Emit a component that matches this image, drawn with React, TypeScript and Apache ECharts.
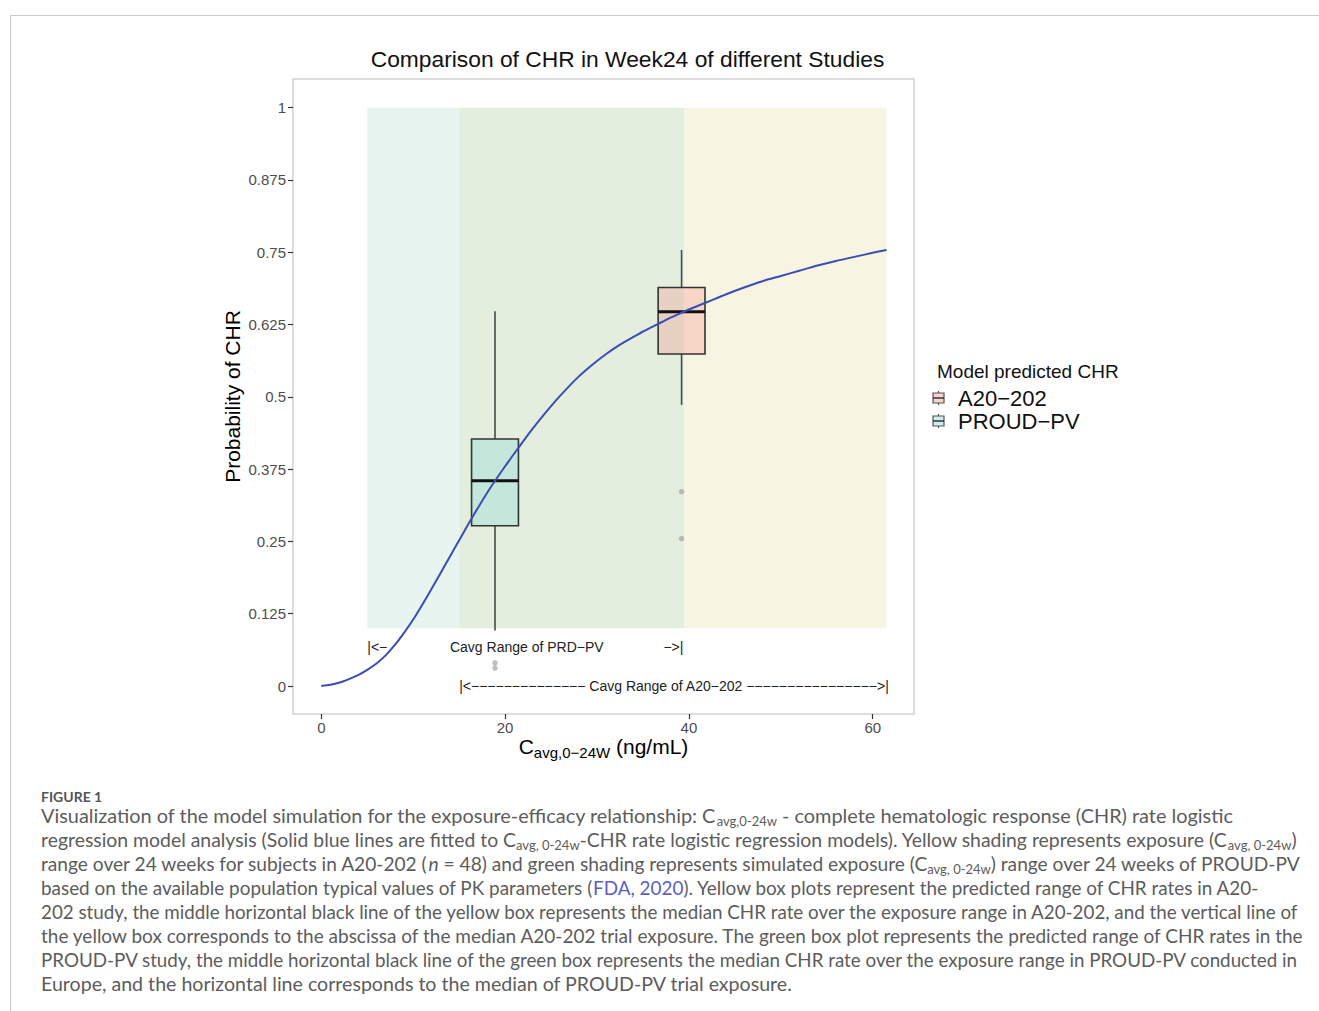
import React, { useEffect, useRef } from 'react';
import * as echarts from 'echarts';

// ---------- data ----------
const curveX = [0, 1, 2, 3, 4, 5, 6, 7, 8, 9, 10, 11, 12, 13, 14, 15, 16, 17, 18, 19, 20, 21, 22, 23, 24, 25, 26, 27, 28, 29, 30, 31, 32, 33, 34, 35, 36, 37, 38, 39, 40, 42, 44, 46, 48, 50, 52, 54, 56, 58, 60, 61.5];
const curveY = [0.0, 0.002, 0.006, 0.012, 0.019, 0.028, 0.039, 0.053, 0.071, 0.092, 0.115, 0.141, 0.168, 0.196, 0.224, 0.252, 0.28, 0.307, 0.333, 0.357, 0.38, 0.402, 0.424, 0.445, 0.465, 0.484, 0.502, 0.519, 0.535, 0.549, 0.562, 0.574, 0.585, 0.595, 0.604, 0.613, 0.621, 0.629, 0.637, 0.644, 0.651, 0.664, 0.677, 0.689, 0.7, 0.709, 0.718, 0.727, 0.735, 0.742, 0.749, 0.754];

const proudRange = [5, 39.5];
const a20Range = [15, 61.5];
const shadeY = [0.1, 1];

const boxNames = ['A20−202', 'PROUD−PV'];
const boxX = [39.2, 18.9];
// [lower whisker, q1, median, q3, upper whisker]
const boxStats = [
  [0.486, 0.574, 0.647, 0.689, 0.754],
  [0.096, 0.277, 0.355, 0.427, 0.648],
];
const boxWidth = 5.1;
const a20Outliers = [0.336, 0.255];
const proudOutliers = [0.04, 0.031];

const xTicks = [0, 20, 40, 60];
const yTicks = [0, 0.125, 0.25, 0.375, 0.5, 0.625, 0.75, 0.875, 1];

const annoX = [5, 14, 39.4, 15];
const annoY = [0.067, 0.067, 0.067, 0.0];
const annoAlign = ['left', 'left', 'right', 'left'];
const annoText = [
  '|<−',
  'Cavg Range of PRD−PV',
  '−>|',
  '|<−−−−−−−−−−−−−− Cavg Range of A20−202 −−−−−−−−−−−−−−−−>|',
];

const captionLines = [
  'Visualization of the model simulation for the exposure-efficacy relationship: C{sub|avg,0-24w} - complete hematologic response (CHR) rate logistic',
  'regression model analysis (Solid blue lines are fitted to C{sub|avg, 0-24w}-CHR rate logistic regression models). Yellow shading represents exposure (C{sub|avg, 0-24w})',
  'range over 24 weeks for subjects in A20-202 ({i|n} = 48) and green shading represents simulated exposure (C{sub|avg, 0-24w}) range over 24 weeks of PROUD-PV',
  'based on the available population typical values of PK parameters ({link|FDA, 2020}). Yellow box plots represent the predicted range of CHR rates in A20-',
  '202 study, the middle horizontal black line of the yellow box represents the median CHR rate over the exposure range in A20-202, and the vertical line of',
  'the yellow box corresponds to the abscissa of the median A20-202 trial exposure. The green box plot represents the predicted range of CHR rates in the',
  'PROUD-PV study, the middle horizontal black line of the green box represents the median CHR rate over the exposure range in PROUD-PV conducted in',
  'Europe, and the horizontal line corresponds to the median of PROUD-PV trial exposure.',
];
const captionSizes = [19.9, 19.4, 19.15, 18.9, 18.8, 19.0, 18.8, 19.6];

// ---------- styles ----------
const FONT = '"Liberation Sans", Arial, sans-serif';
const CAP_FONT = 'Lato, "Open Sans", sans-serif';
const shadeColors = ['#e8f4f0', '#e3eedf', '#f7f5e2'];
const boxFills = ['rgba(248,118,109,0.24)', 'rgba(0,191,196,0.14)'];
const legendFills = ['#f6d3cf', '#cdeef0'];
const capColor = '#5c5c5c';

function buildOption() {
  const shadeData = [
    [proudRange[0], a20Range[0], shadeY[0], shadeY[1], 0],
    [a20Range[0], proudRange[1], shadeY[0], shadeY[1], 1],
    [proudRange[1], a20Range[1], shadeY[0], shadeY[1], 2],
  ];
  const boxData = boxX.map((x, i) => [x, ...boxStats[i], i]);
  const outlierData = [
    ...a20Outliers.map((v) => [boxX[0], v]),
    ...proudOutliers.map((v) => [boxX[1], v]),
  ];
  const annoData = annoX.map((x, i) => [x, annoY[i], i]);

  const graphics: any[] = [
    { type: 'line', shape: { x1: 10, y1: 15.5, x2: 1319, y2: 15.5 }, style: { stroke: '#c9c9c9', lineWidth: 1 } },
    { type: 'line', shape: { x1: 10.5, y1: 15, x2: 10.5, y2: 1011 }, style: { stroke: '#c9c9c9', lineWidth: 1 } },
    {
      type: 'text', x: 627.5, y: 59,
      style: { text: 'Comparison of CHR in Week24 of different Studies', font: `22.8px ${FONT}`, fill: '#111', align: 'center', verticalAlign: 'middle' },
    },
    {
      type: 'text', x: 937, y: 371,
      style: { text: 'Model predicted CHR', font: `19px ${FONT}`, fill: '#111', align: 'left', verticalAlign: 'middle' },
    },
  ];
  const legendY = [398, 421];
  boxNames.forEach((name, i) => {
    const cy = legendY[i];
    const cx = 938.5;
    graphics.push(
      { type: 'line', shape: { x1: cx, y1: cy - 7, x2: cx, y2: cy + 7 }, style: { stroke: '#555', lineWidth: 1.2 } },
      { type: 'rect', shape: { x: cx - 5.5, y: cy - 5, width: 11, height: 10 }, style: { fill: legendFills[i], stroke: '#555', lineWidth: 1.2 } },
      { type: 'line', shape: { x1: cx - 5.5, y1: cy, x2: cx + 5.5, y2: cy }, style: { stroke: '#333', lineWidth: 1.5 } },
      {
        type: 'text', x: 958, y: cy,
        style: { text: name, font: `22px ${FONT}`, fill: '#111', align: 'left', verticalAlign: 'middle' },
      }
    );
  });
  graphics.push({
    type: 'text', x: 41, y: 796,
    style: { text: 'FIGURE 1', font: `bold 14px ${CAP_FONT}`, fill: '#555', align: 'left', verticalAlign: 'middle' },
  });
  captionLines.forEach((line, i) => {
    const fs = captionSizes[i];
    graphics.push({
      type: 'text', x: 41, y: 815 + i * 24,
      style: {
        text: line,
        fontFamily: CAP_FONT,
        fontSize: fs,
        lineHeight: 24,
        fill: capColor,
        align: 'left',
        verticalAlign: 'middle',
        rich: {
          sub: { fontFamily: CAP_FONT, fontSize: 13, lineHeight: 12, verticalAlign: 'bottom', fill: capColor },
          i: { fontFamily: CAP_FONT, fontSize: fs, lineHeight: 24, fontStyle: 'italic', fill: capColor },
          link: { fontFamily: CAP_FONT, fontSize: fs, lineHeight: 24, fill: '#5a5fc0' },
        },
      },
    });
  });

  return {
    animation: false,
    backgroundColor: '#fff',
    grid: {
      left: 293, top: 79, width: 621, height: 635,
      show: true, borderColor: '#d2d2d2', borderWidth: 1.5, backgroundColor: '#fff',
      containLabel: false,
    },
    xAxis: {
      type: 'value', min: -3.08, max: 64.49,
      splitLine: { show: false },
      axisLine: { show: false, onZero: false },
      axisTick: { show: true, length: 5, lineStyle: { color: '#333', width: 1.2 }, customValues: xTicks },
      axisLabel: { customValues: xTicks, color: '#4d4d4d', fontSize: 15, fontFamily: FONT, margin: 6 },
      name: 'C{sub|avg,0−24W} (ng/mL)',
      nameLocation: 'middle',
      nameGap: 18,
      nameMoveOverlap: false,
      nameTextStyle: {
        fontSize: 21, fontFamily: FONT, color: '#000', lineHeight: 28,
        rich: { sub: { fontSize: 15, fontFamily: FONT, color: '#000', lineHeight: 16, verticalAlign: 'bottom' } },
      },
    },
    yAxis: {
      type: 'value', min: -0.0484, max: 1.0496,
      splitLine: { show: false },
      axisLine: { show: false, onZero: false },
      axisTick: { show: true, length: 5, lineStyle: { color: '#333', width: 1.2 }, customValues: yTicks },
      axisLabel: { customValues: yTicks, color: '#4d4d4d', fontSize: 15, fontFamily: FONT, margin: 7 },
      name: 'Probability of CHR',
      nameLocation: 'middle',
      nameRotate: 90,
      nameGap: 50,
      nameTextStyle: { fontSize: 21, fontFamily: FONT, color: '#000' },
    },
    graphic: graphics,
    series: [
      {
        type: 'custom',
        name: 'shade',
        silent: true,
        z: 1,
        data: shadeData,
        renderItem: (params: any, api: any) => {
          const p0 = api.coord([api.value(0), api.value(3)]);
          const p1 = api.coord([api.value(1), api.value(2)]);
          return {
            type: 'rect',
            shape: { x: p0[0], y: p0[1], width: p1[0] - p0[0], height: p1[1] - p0[1] },
            style: { fill: shadeColors[api.value(4)] },
          };
        },
      },
      {
        type: 'custom',
        name: 'boxes',
        z: 3,
        data: boxData,
        renderItem: (params: any, api: any) => {
          const x = api.value(0);
          const lo = api.value(1), q1 = api.value(2), med = api.value(3), q3 = api.value(4), hi = api.value(5);
          const idx = api.value(6);
          const tl = api.coord([x - boxWidth / 2, q3]);
          const br = api.coord([x + boxWidth / 2, q1]);
          const pHi = api.coord([x, hi]);
          const pQ3 = api.coord([x, q3]);
          const pQ1 = api.coord([x, q1]);
          const pLo = api.coord([x, lo]);
          const pMed = api.coord([x, med]);
          return {
            type: 'group',
            children: [
              { type: 'line', shape: { x1: pHi[0], y1: pHi[1], x2: pQ3[0], y2: pQ3[1] }, style: { stroke: '#4a4a4a', lineWidth: 1.6 } },
              { type: 'line', shape: { x1: pQ1[0], y1: pQ1[1], x2: pLo[0], y2: pLo[1] }, style: { stroke: '#4a4a4a', lineWidth: 1.6 } },
              { type: 'rect', shape: { x: tl[0], y: tl[1], width: br[0] - tl[0], height: br[1] - tl[1] }, style: { fill: boxFills[idx], stroke: '#333', lineWidth: 1.6 } },
              { type: 'line', shape: { x1: tl[0], y1: pMed[1], x2: br[0], y2: pMed[1] }, style: { stroke: '#111', lineWidth: 3 } },
            ],
          };
        },
      },
      {
        type: 'scatter',
        name: 'outliers',
        z: 3,
        data: outlierData,
        symbolSize: 5.5,
        itemStyle: { color: 'rgba(150,150,150,0.75)' },
      },
      {
        type: 'line',
        name: 'fit',
        z: 4,
        data: curveX.map((x, i) => [x, curveY[i]]),
        smooth: 0.3,
        showSymbol: false,
        lineStyle: { color: '#3b4db3', width: 2 },
      },
      {
        type: 'custom',
        name: 'annotations',
        z: 5,
        data: annoData,
        renderItem: (params: any, api: any) => {
          const p = api.coord([api.value(0), api.value(1)]);
          const i = api.value(2);
          return {
            type: 'text',
            x: p[0], y: p[1],
            style: { text: annoText[i], font: `14px ${FONT}`, fill: '#222', align: annoAlign[i], verticalAlign: 'middle' },
          };
        },
      },
    ],
  };
}

export default function App() {
  const ref = useRef<HTMLDivElement>(null);
  useEffect(() => {
    if (!ref.current) return;
    const chart = echarts.init(ref.current, null, { renderer: 'svg' });
    chart.setOption(buildOption() as any);
    return () => chart.dispose();
  }, []);
  return <div ref={ref} style={{ position: 'absolute', left: 0, top: 0, width: 1319, height: 1011 }} />;
}
